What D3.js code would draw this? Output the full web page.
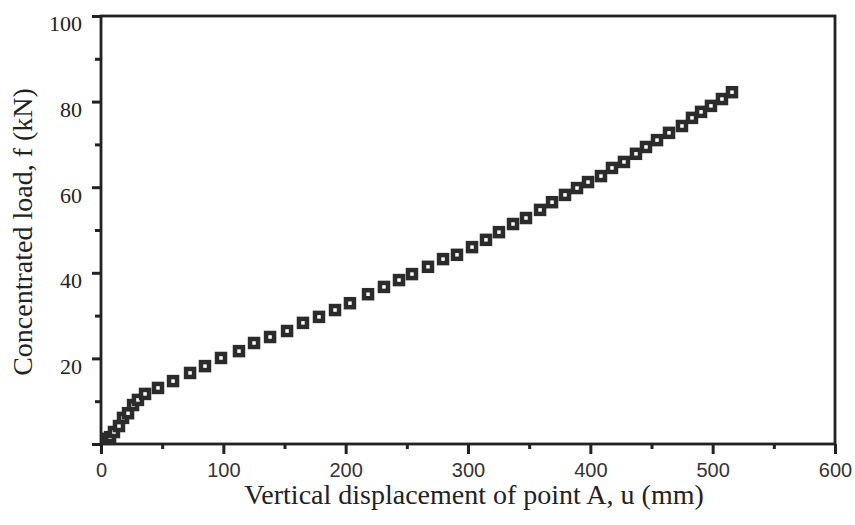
<!DOCTYPE html>
<html>
<head>
<meta charset="utf-8">
<script src="https://cdn.jsdelivr.net/npm/d3@7"></script>
<style>
  body { margin: 0; background: #fff; }
  .serif { font-family: "Liberation Serif", "DejaVu Serif", serif; }
  .sans { font-family: "Liberation Sans", Arial, sans-serif; }
</style>
</head>
<body>
<div class="chart"></div>
<script>
// vertical displacement u (mm) and load f (kN)
const dispValues = [4.9, 7.4, 10.6, 14.7, 18.0, 22.1, 26.2, 30.2, 36.0, 46.6, 58.9, 72.8, 85.0,
  98.1, 112.8, 125.1, 138.2, 152.1, 165.1, 178.2, 191.3, 203.5, 218.3, 231.3, 243.6, 254.2,
  267.3, 279.6, 291.0, 303.3, 314.7, 325.3, 336.8, 347.4, 358.9, 368.7, 379.3, 389.1, 398.1,
  408.7, 417.7, 427.5, 437.3, 445.5, 454.5, 464.3, 474.9, 483.1, 490.5, 498.6, 507.6, 515.8];
const loadValues = [1.2, 1.6, 2.8, 4.2, 6.1, 7.2, 9.1, 10.3, 11.7, 13.1, 14.7, 16.6, 18.2,
  20.1, 21.7, 23.6, 25.0, 26.4, 28.3, 29.7, 31.3, 32.9, 35.0, 36.7, 38.3, 39.7,
  41.4, 43.2, 44.2, 46.0, 47.7, 49.5, 51.4, 52.8, 54.7, 56.5, 58.2, 59.8, 61.2,
  62.6, 64.5, 65.9, 67.8, 69.4, 71.0, 72.7, 74.3, 76.2, 77.6, 79.0, 80.6, 82.2];
const xTicks = [0, 100, 200, 300, 400, 500, 600];
const xMinorTicks = [50, 150, 250, 350, 450, 550];
const yTicks = [0, 20, 40, 60, 80, 100];
const yMinorTicks = [10, 30, 50, 70, 90];

const width = 855, height = 525;
const margin = {top: 16, right: 20, bottom: 81, left: 101};
const ink = "#222";

const svg = d3.select(".chart").append("svg")
  .attr("width", width).attr("height", height);

const x = d3.scaleLinear().domain([0, 600]).range([margin.left, width - margin.right]);
const y = d3.scaleLinear().domain([0, 100]).range([height - margin.bottom, margin.top]);

// frame
svg.append("rect")
  .attr("x", x(0)).attr("y", y(100))
  .attr("width", x(600) - x(0)).attr("height", y(0) - y(100))
  .attr("fill", "none").attr("stroke", ink).attr("stroke-width", 2.8);

function styleAxis(g) {
  g.select(".domain").remove();
  g.selectAll(".tick line").attr("stroke", ink).attr("stroke-width", 3);
}

// y axis
svg.append("g")
  .attr("transform", `translate(${x(0)},0)`)
  .call(d3.axisLeft(y).tickValues(yMinorTicks).tickSize(6).tickFormat(""))
  .call(styleAxis);
const yAx = svg.append("g")
  .attr("transform", `translate(${x(0)},0)`)
  .call(d3.axisLeft(y).tickValues(yTicks).tickSize(9).tickPadding(10)
    .tickFormat(d => d === 0 ? "" : d))
  .call(styleAxis);
yAx.selectAll(".tick text")
  .attr("class", "serif")
  .attr("font-size", 22)
  .attr("fill", ink)
  .attr("dy", "0.68em");

// x axis
svg.append("g")
  .attr("transform", `translate(0,${y(0)})`)
  .call(d3.axisBottom(x).tickValues(xMinorTicks).tickSize(5).tickFormat(""))
  .call(styleAxis);
const xAx = svg.append("g")
  .attr("transform", `translate(0,${y(0)})`)
  .call(d3.axisBottom(x).tickValues(xTicks).tickSize(10).tickPadding(9))
  .call(styleAxis);
xAx.selectAll(".tick text")
  .attr("class", "sans")
  .attr("font-size", 20)
  .attr("fill", "#333");

// axis titles
svg.append("text")
  .attr("class", "serif")
  .attr("x", (x(0) + x(600)) / 2 + 6)
  .attr("y", 504)
  .attr("text-anchor", "middle")
  .attr("font-size", 28)
  .attr("fill", ink)
  .text("Vertical displacement of point A, u (mm)");

svg.append("text")
  .attr("class", "serif")
  .attr("transform", `translate(32,232) rotate(-90)`)
  .attr("text-anchor", "middle")
  .attr("font-size", 28)
  .attr("fill", ink)
  .text("Concentrated load, f (kN)");

// square markers
const pts = dispValues.map((d, i) => ({u: d, f: loadValues[i]}));
const s = 8;
svg.append("g")
  .selectAll("rect")
  .data(pts)
  .join("rect")
    .attr("x", d => x(d.u) - s / 2)
    .attr("y", d => y(d.f) - s / 2)
    .attr("width", s)
    .attr("height", s)
    .attr("fill", "#fff")
    .attr("stroke", "#2b2b2b")
    .attr("stroke-width", 4.5);
</script>
</body>
</html>
